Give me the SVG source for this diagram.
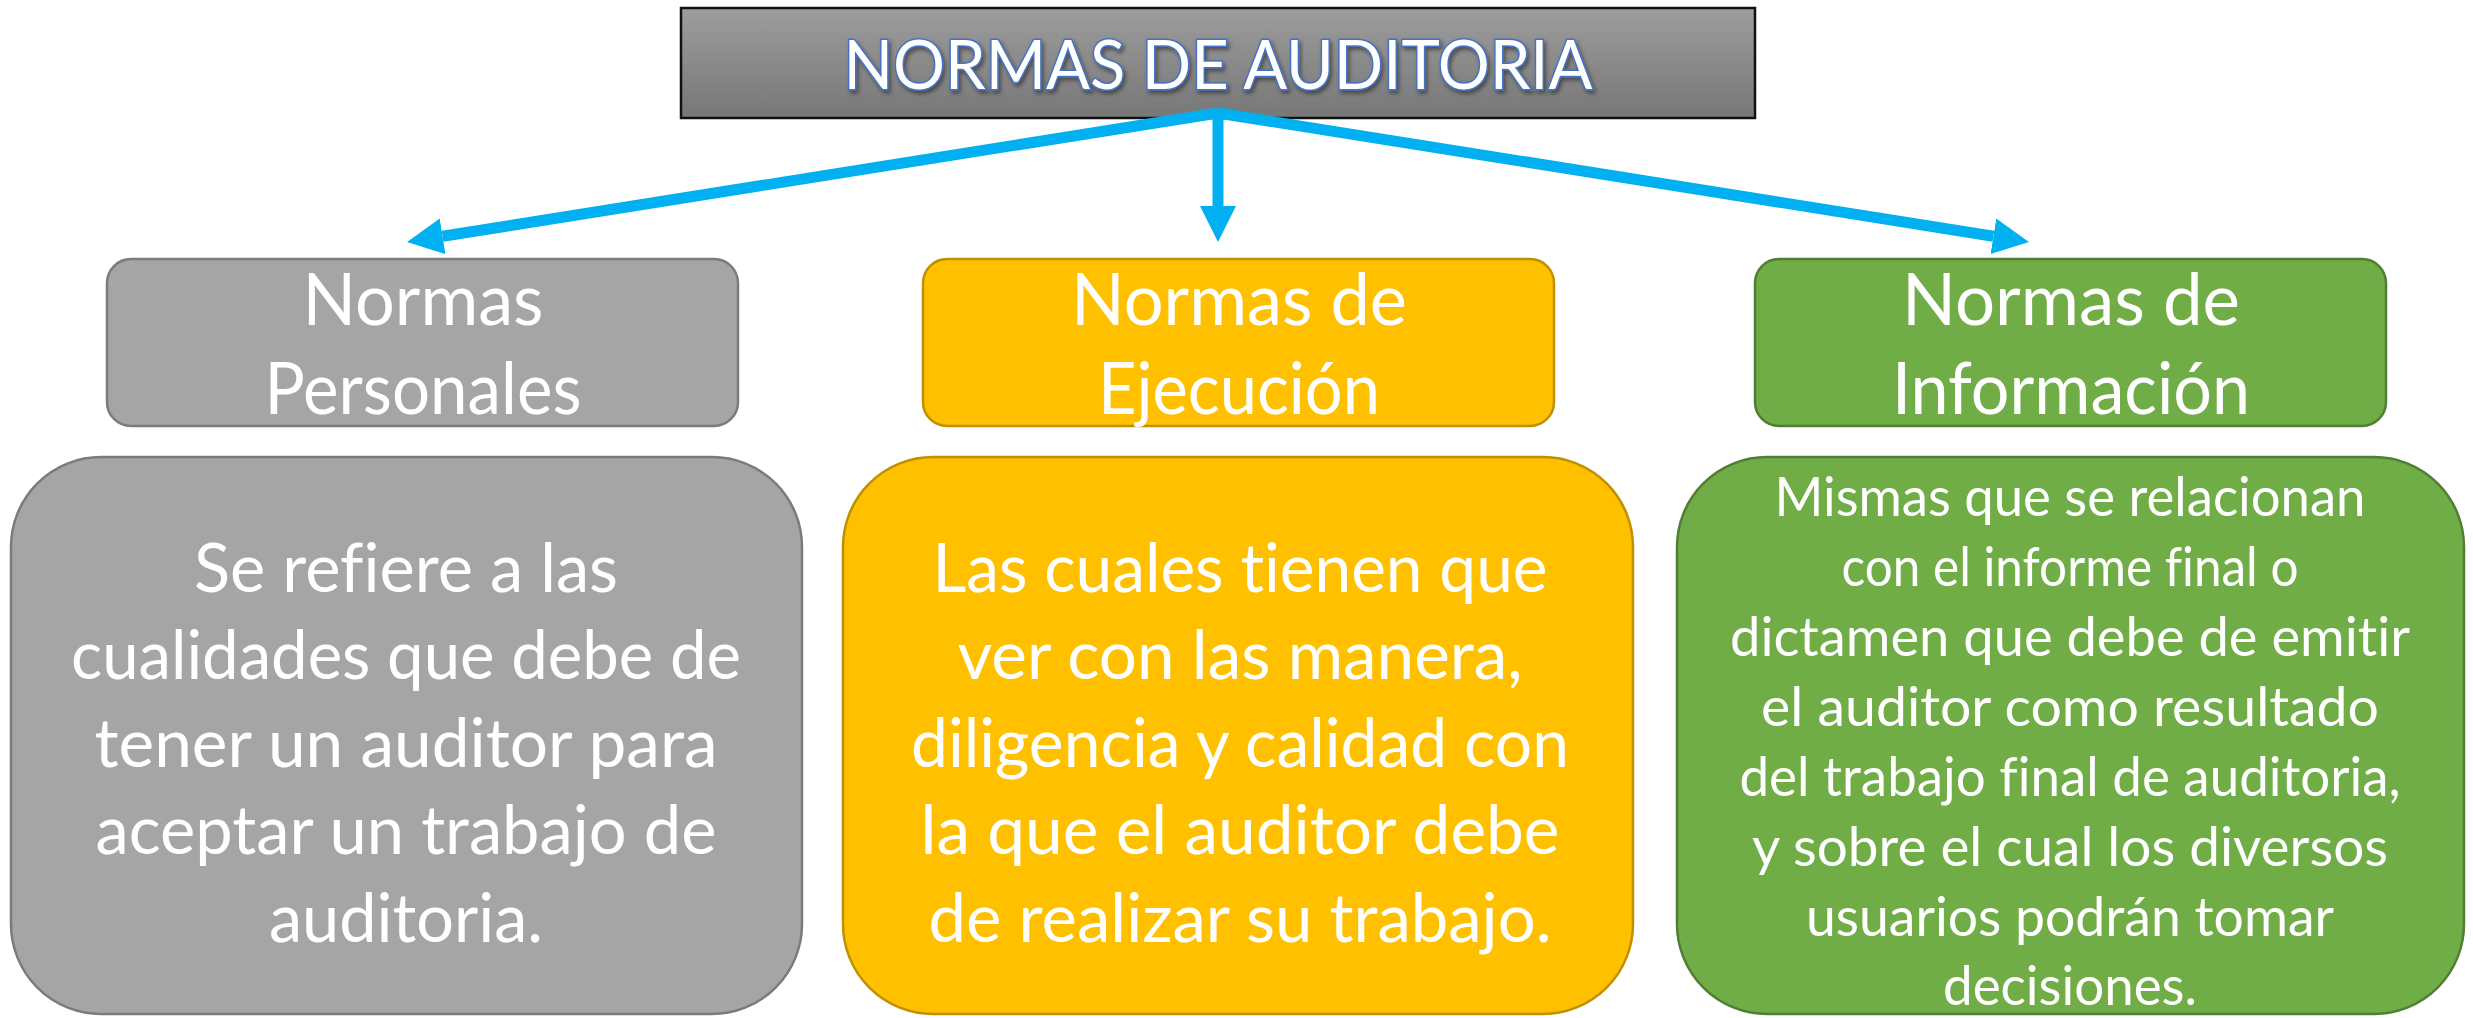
<svg xmlns="http://www.w3.org/2000/svg" width="2473" height="1018" viewBox="0 0 2473 1018">
<style>
text{font-variant-ligatures:none;font-feature-settings:"liga" 0,"clig" 0,"dlig" 0}
.t{font-family:Lato,"Open Sans","Liberation Sans",sans-serif;fill:#ffffff;text-anchor:middle}
.h{font-size:72px}
.b{font-size:68px}
.g{font-size:54px}
.conn{stroke:#00B0F0;stroke-width:11;fill:none}
</style>
<defs>
<linearGradient id="tg" x1="0" y1="0" x2="0" y2="1">
<stop offset="0" stop-color="#9d9d9d"/>
<stop offset="1" stop-color="#777777"/>
</linearGradient>
<filter id="sh" x="-5%" y="-20%" width="110%" height="140%">
<feDropShadow dx="2" dy="3" stdDeviation="2" flood-color="#000" flood-opacity="0.45"/>
</filter>
<marker id="ah" markerUnits="userSpaceOnUse" markerWidth="40" markerHeight="40" refX="0" refY="18" orient="auto">
<path d="M0,0 L36,18 L0,36 Z" fill="#00B0F0"/>
</marker>
</defs>
<rect width="2473" height="1018" fill="#ffffff"/>

<g id="title">
<rect x="681" y="8" width="1074" height="110" fill="url(#tg)" stroke="#111" stroke-width="2.5"/>
<text x="1218" y="89" font-family="Lato,'Open Sans','Liberation Sans',sans-serif" font-size="68" text-anchor="middle" fill="#ffffff" stroke="#4472C4" stroke-width="3" paint-order="stroke" textLength="749" lengthAdjust="spacingAndGlyphs" filter="url(#sh)">NORMAS DE AUDITORIA</text>
</g>

<g id="connectors">
<line class="conn" x1="1218" y1="113" x2="442.6" y2="236.3" marker-end="url(#ah)"/>
<line class="conn" x1="1218" y1="113" x2="1218" y2="206" marker-end="url(#ah)"/>
<line class="conn" x1="1218" y1="113" x2="1993.4" y2="236.3" marker-end="url(#ah)"/>
</g>

<g id="personales">
<rect x="107" y="259" width="631" height="167" rx="24" fill="#A5A5A5" stroke="#7b7b7b" stroke-width="2.5"/>
<text class="t h" x="423" y="325" textLength="241" lengthAdjust="spacingAndGlyphs">Normas</text>
<text class="t h" x="423" y="414" textLength="317" lengthAdjust="spacingAndGlyphs">Personales</text>
</g>

<g id="ejecucion">
<rect x="923" y="259" width="631" height="167" rx="24" fill="#FFC000" stroke="#BF9000" stroke-width="2.5"/>
<text class="t h" x="1239" y="325" textLength="336" lengthAdjust="spacingAndGlyphs">Normas de</text>
<text class="t h" x="1239" y="414" textLength="282" lengthAdjust="spacingAndGlyphs">Ejecución</text>
</g>

<g id="informacion">
<rect x="1755" y="259" width="631" height="167" rx="24" fill="#70AD47" stroke="#507E32" stroke-width="2.5"/>
<text class="t h" x="2071" y="325" textLength="338" lengthAdjust="spacingAndGlyphs">Normas de</text>
<text class="t h" x="2071" y="414" textLength="358" lengthAdjust="spacingAndGlyphs">Información</text>
</g>

<g id="desc-personales">
<rect x="11" y="457" width="791" height="557" rx="90" fill="#A5A5A5" stroke="#7b7b7b" stroke-width="2.5"/>
<text class="t b" x="406" y="592" textLength="424" lengthAdjust="spacingAndGlyphs">Se refiere a las</text>
<text class="t b" x="406" y="679" textLength="670" lengthAdjust="spacingAndGlyphs">cualidades que debe de</text>
<text class="t b" x="406" y="767" textLength="623" lengthAdjust="spacingAndGlyphs">tener un auditor para</text>
<text class="t b" x="406" y="854" textLength="621" lengthAdjust="spacingAndGlyphs">aceptar un trabajo de</text>
<text class="t b" x="406" y="942" textLength="274" lengthAdjust="spacingAndGlyphs">auditoria.</text>
</g>

<g id="desc-ejecucion">
<rect x="843" y="457" width="790" height="557" rx="90" fill="#FFC000" stroke="#BF9000" stroke-width="2.5"/>
<text class="t b" x="1240" y="592" textLength="615" lengthAdjust="spacingAndGlyphs">Las cuales tienen que</text>
<text class="t b" x="1240" y="679" textLength="565" lengthAdjust="spacingAndGlyphs">ver con las manera,</text>
<text class="t b" x="1240" y="767" textLength="658" lengthAdjust="spacingAndGlyphs">diligencia y calidad con</text>
<text class="t b" x="1240" y="854" textLength="639" lengthAdjust="spacingAndGlyphs">la que el auditor debe</text>
<text class="t b" x="1240" y="942" textLength="623" lengthAdjust="spacingAndGlyphs">de realizar su trabajo.</text>
</g>

<g id="desc-informacion">
<rect x="1677" y="457" width="787" height="557" rx="90" fill="#70AD47" stroke="#507E32" stroke-width="2.5"/>
<text class="t g" x="2070" y="516" textLength="591" lengthAdjust="spacingAndGlyphs">Mismas que se relacionan</text>
<text class="t g" x="2070" y="586" textLength="457" lengthAdjust="spacingAndGlyphs">con el informe final o</text>
<text class="t g" x="2070" y="656" textLength="680" lengthAdjust="spacingAndGlyphs">dictamen que debe de emitir</text>
<text class="t g" x="2070" y="726" textLength="618" lengthAdjust="spacingAndGlyphs">el auditor como resultado</text>
<text class="t g" x="2070" y="796" textLength="661" lengthAdjust="spacingAndGlyphs">del trabajo final de auditoria,</text>
<text class="t g" x="2070" y="866" textLength="636" lengthAdjust="spacingAndGlyphs">y sobre el cual los diversos</text>
<text class="t g" x="2070" y="936" textLength="528" lengthAdjust="spacingAndGlyphs">usuarios podrán tomar</text>
<text class="t g" x="2070" y="1005" textLength="254" lengthAdjust="spacingAndGlyphs">decisiones.</text>
</g>
</svg>
